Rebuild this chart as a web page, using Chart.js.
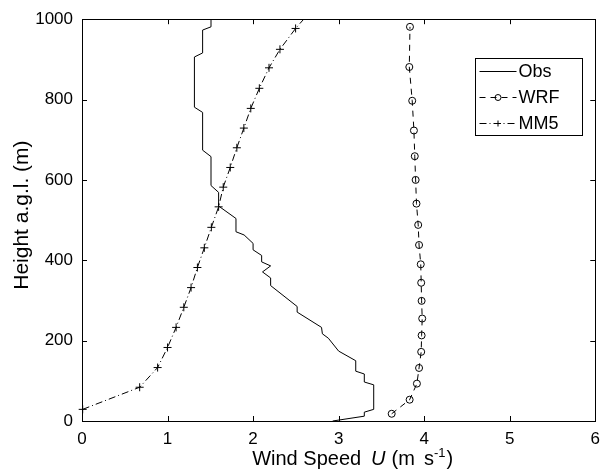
<!DOCTYPE html>
<html>
<head>
<meta charset="utf-8">
<script src="https://cdn.jsdelivr.net/npm/chart.js@4.4.1/dist/chart.umd.min.js"></script>
<style>
  html, body { margin: 0; padding: 0; background: #fff; }
  canvas { display: block; }
</style>
</head>
<body>
<canvas id="perfil" width="608" height="475"></canvas>
<script>
// Observed profile
const obsSpeed = [2.93, 3.30, 3.30, 3.41, 3.41, 3.30, 3.30, 3.20, 3.20, 3.00, 2.88, 2.81, 2.80, 2.515, 2.515,
  2.205, 2.205, 2.11, 2.205, 2.10, 2.10, 2.00, 2.00, 1.895, 1.80, 1.80, 1.597, 1.597, 1.508, 1.508,
  1.41, 1.41, 1.314, 1.314, 1.41, 1.41, 1.508, 1.508];
const obsHeight = [0, 12, 22, 29, 90, 97, 117, 124, 150, 174, 206, 217, 233, 271, 285,
  337, 356, 371, 386, 396, 412, 426, 442, 463, 471, 504, 535, 569, 586, 658,
  674, 768, 781, 906, 916, 973, 981, 1000];

// WRF
const wrfSpeed = [3.62, 3.83, 3.915, 3.94, 3.965, 3.97, 3.977, 3.97, 3.965, 3.96, 3.94, 3.93, 3.91,
  3.90, 3.89, 3.88, 3.86, 3.826, 3.834];
const wrfHeight = [18, 53, 93, 132, 172, 213, 255, 299, 344, 390, 438, 488, 541,
  600, 659, 723, 797, 881, 981];

// MM5
const mm5Speed = [0.008, 0.674, 0.884, 1.0, 1.10, 1.19, 1.275, 1.349, 1.43, 1.512, 1.597, 1.651,
  1.733, 1.81, 1.892, 1.973, 2.073, 2.186, 2.314, 2.497, 2.72];
const mm5Height = [29, 84, 133, 183, 233, 283, 332, 382, 431, 482, 533, 582,
  631, 680, 729, 778, 828, 879, 925, 977, 1031];

const xTicks = [0, 1, 2, 3, 4, 5, 6];
const yTicks = [0, 200, 400, 600, 800, 1000];

const FONT = "'Liberation Sans', Arial, Helvetica, sans-serif";

function pares(xs, ys) {
  return xs.map((v, i) => ({ x: v, y: ys[i] }));
}

// eixos estilo matlab: caixa + ticks para dentro
const caixa = {
  id: "caixa",
  afterDraw(chart) {
    const ctx = chart.ctx;
    const a = chart.chartArea;
    const sx = chart.scales.x, sy = chart.scales.y;
    ctx.save();
    ctx.strokeStyle = "#000";
    ctx.lineWidth = 1;
    ctx.setLineDash([]);
    ctx.beginPath();
    xTicks.forEach((t) => {
      const p = Math.round(sx.getPixelForValue(t)) + 0.5;
      ctx.moveTo(p, a.bottom); ctx.lineTo(p, a.bottom - 5);
      ctx.moveTo(p, a.top); ctx.lineTo(p, a.top + 5);
    });
    yTicks.forEach((t) => {
      const p = Math.round(sy.getPixelForValue(t)) + 0.5;
      ctx.moveTo(a.left, p); ctx.lineTo(a.left + 5, p);
      ctx.moveTo(a.right, p); ctx.lineTo(a.right - 5, p);
    });
    ctx.stroke();
    ctx.strokeRect(Math.round(a.left) + 0.5, Math.round(a.top) + 0.5,
      Math.round(a.right - a.left), Math.round(a.bottom - a.top));

    // titulo x (com U italico e expoente)
    ctx.fillStyle = "#000";
    ctx.textBaseline = "alphabetic";
    const partes = [
      { t: "Wind Speed", f: "20px " + FONT, dy: 0, gap: 0 },
      { t: "U", f: "italic 20px " + FONT, dy: 0, gap: 10 },
      { t: "(m", f: "20px " + FONT, dy: 0, gap: 6 },
      { t: "s", f: "20px " + FONT, dy: 0, gap: 9 },
      { t: "-1", f: "13px " + FONT, dy: -8, gap: 0 },
      { t: ")", f: "20px " + FONT, dy: 0, gap: 1 },
    ];
    let total = 0;
    partes.forEach((p) => { ctx.font = p.f; total += p.gap + ctx.measureText(p.t).width; });
    let x = (a.left + a.right) / 2 + 14 - total / 2;
    const yb = a.bottom + 44;
    ctx.textAlign = "left";
    partes.forEach((p) => {
      ctx.font = p.f;
      x += p.gap;
      ctx.fillText(p.t, x, yb + p.dy);
      x += ctx.measureText(p.t).width;
    });

    // titulo y
    ctx.save();
    ctx.translate(28, (a.top + a.bottom) / 2 - 5);
    ctx.rotate(-Math.PI / 2);
    ctx.font = "21px " + FONT;
    ctx.textAlign = "center";
    ctx.fillText("Height a.g.l. (m)", 0, 0);
    ctx.restore();

    // legenda
    const lw = 107, lh = 77;
    const lx = Math.round(a.right - 13 - lw) + 0.5;
    const ly = Math.round(a.top + 39) + 0.5;
    ctx.fillStyle = "#fff";
    ctx.fillRect(lx, ly, lw, lh);
    ctx.strokeStyle = "#000";
    ctx.strokeRect(lx, ly, lw, lh);
    chart.data.datasets.forEach((ds, i) => {
      const yy = ly + 13 + i * 26;
      ctx.setLineDash(ds.borderDash || []);
      ctx.lineWidth = 1;
      ctx.strokeStyle = "#000";
      ctx.beginPath();
      ctx.moveTo(lx + 4, yy);
      ctx.lineTo(lx + 41, yy);
      ctx.stroke();
      ctx.setLineDash([]);
      if (ds.pointRadius > 0) {
        ctx.fillStyle = "rgba(0,0,0,0)";
        Chart.helpers.drawPoint(ctx, {
          pointStyle: ds.pointStyle, radius: 3, borderWidth: 1, rotation: 0,
        }, lx + 22.5, yy);
      }
      ctx.fillStyle = "#000";
      ctx.font = "18px " + FONT;
      ctx.textAlign = "left";
      ctx.textBaseline = "middle";
      ctx.fillText(ds.label, lx + 43, yy + 1);
    });
    ctx.restore();
  },
};

const clipArea = { left: 6, right: 6, top: 0, bottom: 6 };

new Chart(document.getElementById("perfil"), {
  type: "scatter",
  data: {
    datasets: [
      {
        label: "Obs",
        data: pares(obsSpeed, obsHeight),
        showLine: true,
        borderColor: "#000",
        borderWidth: 1,
        pointRadius: 0,
        tension: 0,
        clip: clipArea,
      },
      {
        label: "WRF",
        data: pares(wrfSpeed, wrfHeight),
        showLine: true,
        borderColor: "#000",
        borderWidth: 1,
        borderDash: [6, 5],
        pointStyle: "circle",
        pointRadius: 3.5,
        pointBorderWidth: 1,
        pointBorderColor: "#000",
        pointBackgroundColor: "rgba(0,0,0,0)",
        tension: 0,
        clip: clipArea,
      },
      {
        label: "MM5",
        data: pares(mm5Speed, mm5Height),
        showLine: true,
        borderColor: "#000",
        borderWidth: 1,
        borderDash: [7, 3, 1, 3],
        pointStyle: "cross",
        pointRadius: 4,
        pointBorderWidth: 1,
        pointBorderColor: "#000",
        pointBackgroundColor: "#000",
        tension: 0,
        clip: clipArea,
      },
    ],
  },
  options: {
    responsive: false,
    animation: false,
    devicePixelRatio: 1,
    layout: { padding: { top: 14, right: 10, left: 0, bottom: 0 } },
    plugins: {
      legend: { display: false },
      tooltip: { enabled: false },
    },
    scales: {
      x: {
        type: "linear",
        min: 0,
        max: 6,
        afterFit: (s) => { s.height = 54; },
        afterBuildTicks: (s) => { s.ticks = xTicks.map((v) => ({ value: v })); },
        grid: { display: false, drawTicks: false },
        border: { display: false },
        ticks: { color: "#000", padding: 8, font: { family: FONT, size: 17 }, callback: (v) => String(v) },
      },
      y: {
        type: "linear",
        min: 0,
        max: 1000,
        afterFit: (s) => { s.width = 82; },
        afterBuildTicks: (s) => { s.ticks = yTicks.map((v) => ({ value: v })); },
        grid: { display: false, drawTicks: false },
        border: { display: false },
        ticks: { color: "#000", padding: 9, font: { family: FONT, size: 17 }, callback: (v) => String(v) },
      },
    },
  },
  plugins: [caixa],
});
</script>
</body>
</html>
